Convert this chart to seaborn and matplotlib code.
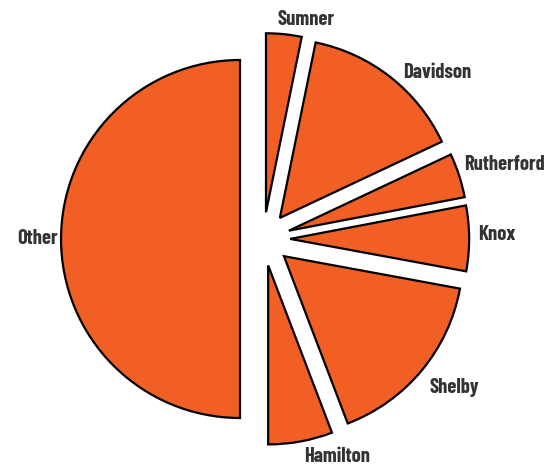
import matplotlib
matplotlib.use("Agg")
import matplotlib.pyplot as plt
import seaborn as sns

# Share of total by county (percent)
counties = ["Sumner", "Davidson", "Rutherford", "Knox", "Shelby", "Hamilton", "Other"]
shares = [3.2, 14.8, 4.0, 5.9, 16.3, 5.8, 50.0]

sns.set_theme(style="white")
plt.rcParams["font.family"] = ["Barlow Condensed", "DejaVu Sans"]

W, H = 553, 466
fig = plt.figure(figsize=(W / 100, H / 100), dpi=100)
ax = fig.add_axes([0, 0, 1, 1])

fill = "#F15F25"
explode = [0.13 if c == "Other" else 0.15 for c in counties]

wedges, texts = ax.pie(
    shares,
    labels=counties,
    colors=[fill] * len(shares),
    explode=explode,
    startangle=90,
    counterclock=False,
    labeldistance=1.07,
    wedgeprops=dict(edgecolor="black", linewidth=1.6),
    textprops=dict(fontsize=14.8, fontweight="bold", color="#333333"),
)

# pixel-true scaling: radius 179 px, centre at (263, 239) from top-left
r_px = 179.0
cx, cy = 263.3, 239.0
ax.set_xlim(-cx / r_px, (W - cx) / r_px)
ax.set_ylim(-(H - cy) / r_px, cy / r_px)
ax.set_aspect("auto")
ax.axis("off")

# small label nudges (pixels, right / down) so text clears the wedges neatly
nudge = {
    "Sumner": (-8, -2),
    "Davidson": (5, 5),
    "Rutherford": (-7, -7),
    "Knox": (-4, -4),
    "Shelby": (-2, 9),
    "Hamilton": (1, 3),
    "Other": (9, 0),
}
for t in texts:
    dx, dy = nudge.get(t.get_text(), (0, 0))
    x, y = t.get_position()
    t.set_position((x + dx / r_px, y - dy / r_px))

fig.savefig("out.png", dpi=100, facecolor="white")
